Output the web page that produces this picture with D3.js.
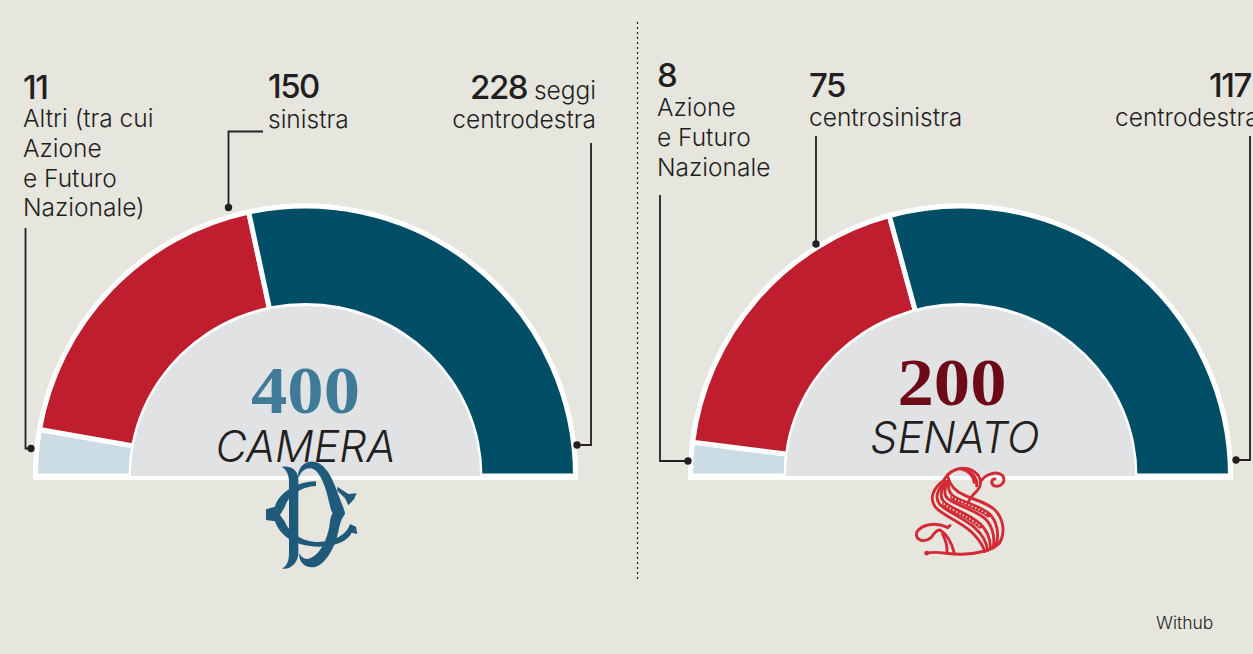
<!DOCTYPE html>
<html><head><meta charset="utf-8">
<script src="https://cdn.jsdelivr.net/npm/d3@7/dist/d3.min.js"></script>
<style>
html,body{margin:0;padding:0;background:#e6e6df;overflow:hidden}
svg{display:block}
text{font-family:Inter,Lato,sans-serif;fill:#231f20}
.lab{font-weight:300;font-size:24.5px}
.num{font-weight:500;font-size:33px;letter-spacing:-1.5px}
.tot{font-family:"Liberation Serif",serif;font-weight:700;font-size:68px;text-anchor:middle}
.house{font-weight:300;font-style:italic;font-size:43px;text-anchor:middle}
.lead{fill:none;stroke:#231f20;stroke-width:1.8}
</style></head><body>
<svg id="c" width="1253" height="654"></svg>
<script>
const groups = ["altri", "sinistra", "destra"];
const cameraSeats = [22, 151, 227];
const senatoSeats = [8, 75, 117];
const cameraTotal = "400";
const senatoTotal = "200";
const sliceColors = ["#ccdce4", "#bf1e2e", "#004d66"];

const svg = d3.select("#c");
const pie = d3.pie().sort(null).startAngle(-Math.PI/2).endAngle(Math.PI/2);
const R = 270, baseY = 476;
const arc = d3.arc().innerRadius(150).outerRadius(R);
const half = (o)=>d3.arc().innerRadius(0).outerRadius(o).startAngle(-Math.PI/2).endAngle(Math.PI/2)();
const color = d3.scaleOrdinal(groups, sliceColors);

function hemi(cx, seats, total, totalColor, totalX, name, nameX, nameY, totalY){
  const g = svg.append("g").attr("transform",`translate(${cx},${baseY})`);
  g.append("path").attr("fill","#fff").attr("d", half(272.5));
  g.selectAll(".s").data(pie(seats)).join("path").attr("class","s")
    .attr("d",arc).attr("fill",(d,i)=>color(groups[i])).attr("stroke","#fff").attr("stroke-width",5);
  g.append("path").attr("fill","#fff").attr("d", half(177)).attr("transform",`scale(1,${173/177})`);
  g.append("path").attr("fill","#e0e2e4").attr("d", half(174.7)).attr("transform",`scale(1,${170/174.7})`);
  g.append("rect").attr("x",-272.5).attr("width",545).attr("y",0).attr("height",4).attr("fill","#fff");
  g.append("rect").attr("x",-272.5).attr("width",95).attr("y",-1).attr("height",1).attr("fill","#fff");
  g.append("rect").attr("x",177.5).attr("width",95).attr("y",-1).attr("height",1).attr("fill","#fff");
  g.append("text").attr("class","tot").attr("x",totalX-cx).attr("y",totalY-baseY)
    .attr("textLength",109).attr("lengthAdjust","spacingAndGlyphs").style("fill",totalColor).text(total);
  g.append("text").attr("class","house").attr("x",nameX-cx).attr("y",nameY-baseY).text(name);
}
hemi(305.5, cameraSeats, cameraTotal, "#3f7b98", 305.5, "CAMERA", 305.5, 461.5, 413);
hemi(960.5, senatoSeats, senatoTotal, "#6d0a18", 952, "SENATO", 955, 452.5, 405);

// Labels
const labels = [
 {x:23,y:99,num:"11",lines:["Altri (tra cui","Azione","e Futuro","Nazionale)"],ly:[127,157,187,216]},
 {x:268,y:98,num:"150",lines:["sinistra"],ly:[128]},
 {x:657,y:87,num:"8",lines:["Azione","e Futuro","Nazionale"],ly:[116,146,176]},
 {x:809,y:97,num:"75",lines:["centrosinistra"],ly:[126]},
];
labels.forEach(l=>{
  svg.append("text").attr("class","num").attr("x",l.x).attr("y",l.y).text(l.num);
  l.lines.forEach((t,i)=>svg.append("text").attr("class","lab").attr("x",l.x).attr("y",l.ly[i]).text(t));
});
const t228 = svg.append("text").attr("x",596).attr("y",99).attr("text-anchor","end");
t228.append("tspan").attr("class","num").text("228");
t228.append("tspan").attr("class","lab").text(" seggi");
svg.append("text").attr("class","lab").attr("x",596).attr("y",128).attr("text-anchor","end").text("centrodestra");
svg.append("text").attr("class","num").attr("x",1209).attr("y",97).text("117");
svg.append("text").attr("class","lab").attr("x",1115).attr("y",126).text("centrodestra");
svg.append("text").attr("x",1156).attr("y",629).attr("font-size",17.5).attr("font-weight",300).text("Withub");

// Leaders
const leaders = [
 {pts:[[25.5,228],[25.5,448.5],[31,448.5]],dot:[31,448.5]},
 {pts:[[263,131.5],[228.5,131.5],[228.5,207.5]],dot:[228.5,207.5]},
 {pts:[[591,143],[591,445],[577,445]],dot:[577,445]},
 {pts:[[660,195],[660,461],[688,461]],dot:[688,461]},
 {pts:[[816,136],[816,244]],dot:[816,244]},
 {pts:[[1250,136],[1250,460],[1236,460]],dot:[1236,460]},
];
const line = d3.line();
leaders.forEach(l=>{
  svg.append("path").attr("class","lead").attr("d",line(l.pts));
  svg.append("circle").attr("cx",l.dot[0]).attr("cy",l.dot[1]).attr("r",3.7).attr("fill","#231f20");
});
// Divider
svg.append("line").attr("x1",637.5).attr("x2",637.5).attr("y1",22).attr("y2",580)
  .attr("stroke","#231f20").attr("stroke-width",1.2).attr("stroke-dasharray","2 3");

// Camera monogram
const dc = svg.append("g").attr("transform","translate(230,340) scale(0.3333)").attr("fill","#1f5a7a");
[
"M156 381C175 376 205 385 205 420L205 640C205 665 185 690 156 686C170 678 177 665 177 640L177 425C177 405 170 390 156 381Z",
"M205 415C200 385 225 362 250 365C285 368 305 410 320 450C330 480 345 510 345 522C335 535 330 550 325 575C315 620 285 682 245 682C225 682 205 665 208 640C215 655 228 660 240 655C275 640 295 590 300 545C302 530 305 525 308 520C302 510 300 500 298 490C290 450 270 385 240 385C225 385 212 395 205 415Z",
"M258 424C200 424 145 460 135 500L108 508L108 540L135 544C150 590 200 620 265 620C320 620 355 600 365 578L382 582L378 560L360 552C350 585 310 605 265 606C215 606 175 575 165 545L150 525L165 500C175 465 215 440 258 438Z",
"M322 440L355 462L380 460L372 478L355 496L345 475L322 452Z"
].forEach(d=>dc.append("path").attr("d",d));

// Senato monogram
const sRed = "#d22b36", sPale = "#e6e6df";
const sg = svg.append("g").attr("transform","translate(905,460) scale(0.3333,0.345)")
  .attr("fill","none").attr("stroke",sRed).attr("stroke-width",8.5).attr("stroke-linecap","round");
[
 "M118 58C85 80 72 110 90 135C110 160 160 175 195 205C215 222 232 245 240 265",
 "M122 62C97 85 88 110 104 128C125 150 170 165 208 195C228 212 245 238 248 262",
 "M126 62C108 85 102 105 116 120C135 140 185 152 222 182C245 200 258 230 256 258",
 "M128 62C118 82 116 100 128 112C150 130 200 140 238 168C260 186 272 222 264 255",
 "M132 62C128 78 130 92 144 104C165 120 215 128 252 155C275 175 285 215 272 250",
 "M128 48C135 75 155 92 178 102C205 115 245 122 270 145C295 170 302 210 284 240",
 "M65 270C100 262 130 275 170 273C215 272 265 262 284 240",
 "M118 55C140 22 190 10 220 45C232 65 228 80 205 100",
 "M165 25C190 30 205 45 208 65",
 "M185 30C205 40 218 55 215 75",
 "M225 65C240 40 275 30 293 45C305 65 285 80 268 75C255 68 260 55 270 55",
 "M128 195C90 180 50 185 35 210C30 235 60 240 78 225C90 208 98 202 105 203C125 215 140 240 148 270",
 "M113 215C123 235 128 250 126 268",
 "M205 100L192 118","M135 190L128 196"
].forEach(d=>sg.append("path").attr("d",d));
// dotted bands
["M118 128C140 148 190 162 225 192","M142 108C170 126 215 134 250 160"].forEach(d=>{
  sg.append("path").attr("d",d).attr("stroke-width",13);
  sg.append("path").attr("d",d).attr("stroke",sPale).attr("stroke-width",5).attr("stroke-dasharray","0 11");
});
sg.append("circle").attr("cx",65).attr("cy",270).attr("r",7).attr("fill",sRed).attr("stroke","none");
</script>
</body></html>
